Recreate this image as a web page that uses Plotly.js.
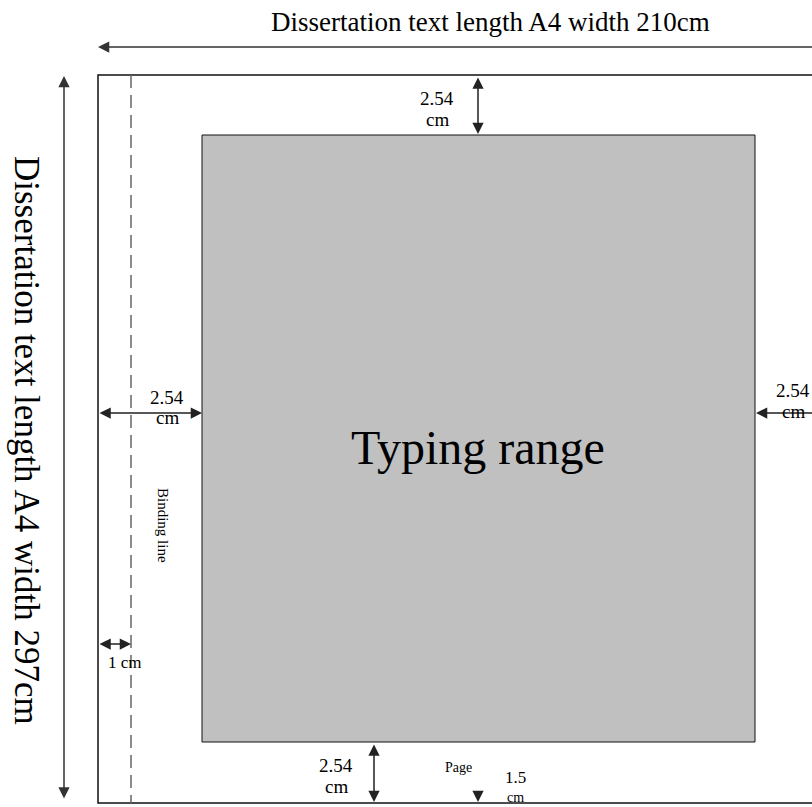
<!DOCTYPE html>
<html>
<head>
<meta charset="utf-8">
<script src="https://cdn.plot.ly/plotly-3.0.1.min.js"></script>
<style>html,body{margin:0;padding:0;background:#fff;}#chart{width:812px;height:807px;}</style>
</head>
<body>
<div id="chart"></div>
<script>
// ---- diagram content (labels and dimension values) ----
const pageTitles = ['Dissertation text length A4 width 210cm', 'Dissertation text length A4 width 297cm'];
const marginValues = ['2.54', '2.54', '2.54', '2.54'];   // top, left, right, bottom
const marginUnit = 'cm';
const bindingValue = '1 cm';
const footerValue = '1.5';
const areaLabel = 'Typing range';
const bindingLabel = 'Binding line';
const pageLabel = 'Page';

// ---- geometry (page-space layout coordinates) ----
const PAGE = {x0: 98, y0: 75, x1: 840, y1: 803};
const TYPE = {x0: 202, y0: 135, x1: 755, y1: 742};
const BIND_X = 131;

const FONT = 'Liberation Serif, Times New Roman, serif';
const shapes = [
  {type: 'rect', xref: 'x', yref: 'y', x0: PAGE.x0, y0: PAGE.y0, x1: PAGE.x1, y1: PAGE.y1,
   line: {color: '#111', width: 1.5}, fillcolor: 'rgba(0,0,0,0)'},
  {type: 'line', xref: 'x', yref: 'y', x0: BIND_X, y0: PAGE.y0, x1: BIND_X, y1: PAGE.y1,
   line: {color: '#666', width: 1.5, dash: '13px,7px'}},
  {type: 'rect', xref: 'x', yref: 'y', x0: TYPE.x0, y0: TYPE.y0, x1: TYPE.x1, y1: TYPE.y1,
   line: {color: '#111', width: 1}, fillcolor: '#c0c0c0'}
];

function arrow(x, y, ax, ay, both, color) {
  return {x: x, y: y, ax: ax, ay: ay, xref: 'x', yref: 'y', axref: 'x', ayref: 'y',
    text: '', showarrow: true, arrowhead: 2, arrowsize: 1.5, arrowwidth: 1.5,
    startarrowhead: 2, startarrowsize: 1.5, arrowcolor: color || '#111',
    arrowside: both ? 'end+start' : 'end', standoff: 0, startstandoff: 0};
}
function label(x, y, text, size, angle) {
  return {x: x, y: y, xref: 'x', yref: 'y', text: text, showarrow: false,
    font: {family: FONT, size: size, color: '#000'}, textangle: angle || 0,
    xanchor: 'center', yanchor: 'middle', borderpad: 0};
}

const annotations = [
  arrow(PAGE.x0, 47, 830, 47, false, '#333'),
  arrow(64, 76, 64, 800, true, '#333'),
  arrow(478, 134, 478, 76, true, '#222'),
  arrow(TYPE.x0, 413, PAGE.x0, 413, true, '#222'),
  arrow(TYPE.x1 + 1, 413, 830, 413, false, '#222'),
  arrow(BIND_X, 644, PAGE.x0, 644, true, '#222'),
  arrow(374, 802, 374, 743, true, '#222'),
  arrow(478, 802, 478, 791, false, '#222'),

  label(490, 22, pageTitles[0], 27),
  label(27, 440, pageTitles[1], 35, 90),
  label(437, 98, marginValues[0], 19),
  label(437, 119, marginUnit, 19),
  label(167, 397, marginValues[1], 19),
  label(167, 417, marginUnit, 19),
  label(793, 390, marginValues[2], 19),
  label(793, 411, marginUnit, 19),
  label(336, 765, marginValues[3], 19),
  label(336, 786, marginUnit, 19),
  label(125, 662, bindingValue, 17),
  label(163, 525, bindingLabel, 15, 90),
  label(458, 767, pageLabel, 14),
  label(515, 777, footerValue, 17),
  label(515, 797, marginUnit, 14),
  label(478, 447, areaLabel, 48)
];

const layout = {
  width: 812, height: 807,
  margin: {l: 0, r: 0, t: 0, b: 0, pad: 0},
  paper_bgcolor: '#fff', plot_bgcolor: '#fff',
  showlegend: false,
  xaxis: {range: [0, 812], visible: false, fixedrange: true},
  yaxis: {range: [807, 0], visible: false, fixedrange: true},
  shapes: shapes,
  annotations: annotations
};

Plotly.newPlot('chart', [{x: [], y: [], type: 'scatter', mode: 'markers', hoverinfo: 'skip'}], layout,
  {staticPlot: true, displayModeBar: false});
</script>
</body>
</html>
